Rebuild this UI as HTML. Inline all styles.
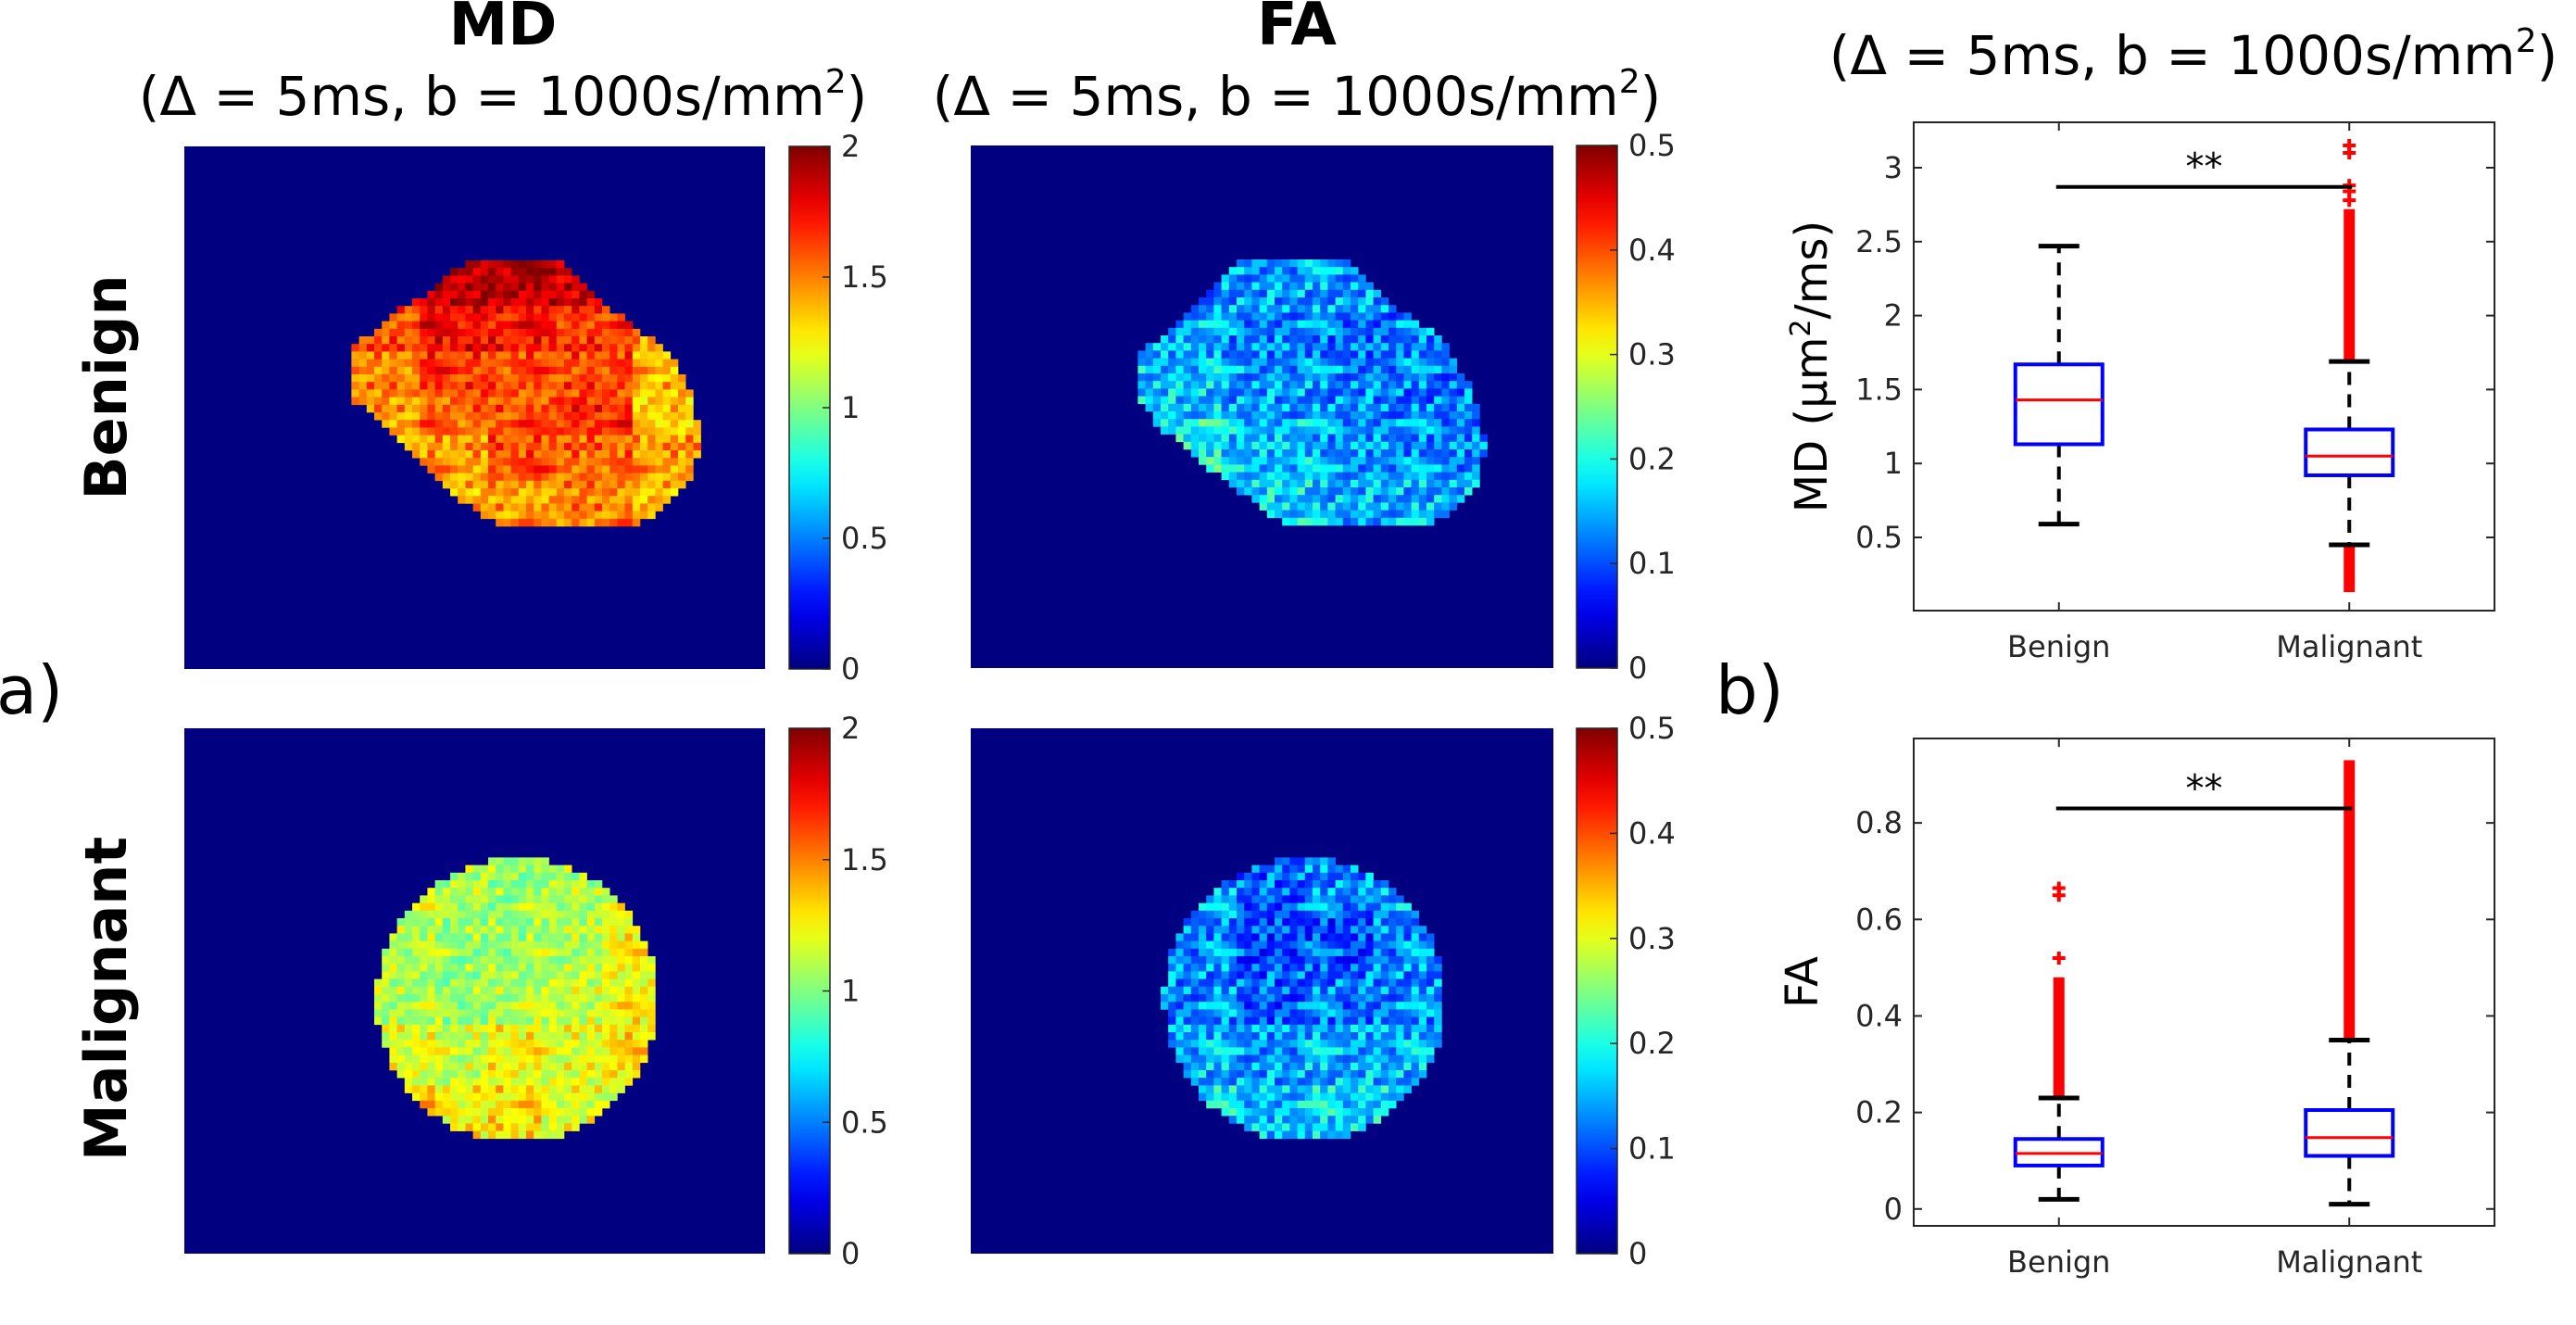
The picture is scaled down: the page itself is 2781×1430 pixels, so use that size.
<!DOCTYPE html>
<html><head><meta charset="utf-8"><style>
html,body{margin:0;padding:0;background:#fff;}
svg{display:block;font-family:"DejaVu Sans","Liberation Sans",sans-serif;}
</style></head><body>
<svg id="fig" width="2781" height="1430" viewBox="0 0 2781 1430" xmlns="http://www.w3.org/2000/svg">
<rect width="2781" height="1430" fill="#fff"/>
<g id="maps"></g>
<g id="text">
<text x="543" y="48" font-size="64" font-weight="bold" text-anchor="middle">MD</text>
<text x="543" y="124" font-size="58" text-anchor="middle">(Δ = 5ms, b = 1000s/mm<tspan font-size="36" dy="-24">2</tspan><tspan dy="24">)</tspan></text>
<text x="1400" y="48" font-size="64" font-weight="bold" text-anchor="middle">FA</text>
<text x="1400" y="124" font-size="58" text-anchor="middle">(Δ = 5ms, b = 1000s/mm<tspan font-size="36" dy="-24">2</tspan><tspan dy="24">)</tspan></text>
<text x="2368" y="80" font-size="58" text-anchor="middle">(Δ = 5ms, b = 1000s/mm<tspan font-size="36" dy="-24">2</tspan><tspan dy="24">)</tspan></text>
<text transform="translate(136,418) rotate(-90)" font-size="62" font-weight="bold" text-anchor="middle">Benign</text>
<text transform="translate(136,1078) rotate(-90)" font-size="62" font-weight="bold" text-anchor="middle">Malignant</text>
<text x="-4" y="770" font-size="72">a)</text>
<text x="1852" y="770" font-size="72">b)</text>
</g>
<g id="boxes"></g>
</svg>
<script>
// ---------- heatmap data (coarse value grids) ----------
const mdBenignGrid=[[1.85,1.9,1.9,1.85,1.7],[1.6,1.75,1.72,1.65,1.45],[1.5,1.65,1.6,1.62,1.4],[1.45,1.55,1.6,1.68,1.35],[1.4,1.45,1.6,1.55,1.45],[1.35,1.4,1.45,1.5,1.4]];
const mdMalignantGrid=[[1.15,1.1,1.05,1.1,1.2],[1.1,1.05,1.05,1.1,1.25],[1.1,1.05,1.1,1.15,1.25],[1.2,1.15,1.25,1.2,1.3],[1.35,1.25,1.3,1.2,1.2]];
const faBenignGrid=[[0.13,0.14,0.14,0.13],[0.15,0.13,0.12,0.13],[0.16,0.14,0.13,0.12],[0.19,0.16,0.14,0.13],[0.18,0.17,0.15,0.15]];
const faMalignantGrid=[[0.14,0.11,0.13,0.15],[0.13,0.1,0.1,0.13],[0.13,0.11,0.12,0.13],[0.15,0.14,0.15,0.15],[0.17,0.16,0.17,0.18]];
const mdJitter=[0.12,-0.08,0.05,-0.15,0.1,0.0,-0.05,0.18,-0.12,0.07,-0.02,0.03,-0.1];
const faJitter=[0.04,-0.03,0.02,-0.05,0.06,0.0,-0.02,0.05,-0.04,0.03,-0.01,0.01,-0.03];
const mdTicks=[0,0.5,1,1.5,2];
const faTicks=[0,0.1,0.2,0.3,0.4,0.5];

function jet(t){t=Math.max(0,Math.min(1,t));
 const f=x=>Math.max(0,Math.min(1,x));
 const r=f(1.5-Math.abs(4*t-3)),g=f(1.5-Math.abs(4*t-2)),b=f(1.5-Math.abs(4*t-1));
 return `rgb(${Math.round(r*255)},${Math.round(g*255)},${Math.round(b*255)})`;}
function inPoly(x,y,p){let c=false;for(let i=0,j=p.length-1;i<p.length;j=i++){const a=p[i],b=p[j];
 if(((a[1]>y)!=(b[1]>y))&&(x<(b[0]-a[0])*(y-a[1])/(b[1]-a[1])+a[0]))c=!c;}return c;}
function ellipse(cx,cy,rx,ry){const p=[];for(let k=0;k<40;k++){const a=k/40*2*Math.PI;p.push([cx+rx*Math.cos(a),cy+ry*Math.sin(a)]);}return p;}
const NS="http://www.w3.org/2000/svg";
function el(tag,attrs,parent){const e=document.createElementNS(NS,tag);for(const k in attrs)e.setAttribute(k,attrs[k]);parent.appendChild(e);return e;}

const maps=document.getElementById('maps');
const mdBenignShape=[[511,280],[603,280],[637,311],[683,354],[723,378],[746,425],[754,464],[752,507],[735,526],[717,550],[685,570],[540,570],[499,540],[459,507],[425,468],[379,430],[379,378],[402,358],[430,335],[471,311],[494,287]];
const faBenignShape=[[1343,280],[1452,280],[1498,325],[1556,366],[1590,421],[1604,478],[1596,521],[1573,550],[1533,568],[1389,568],[1343,535],[1286,492],[1246,454],[1228,430],[1228,382],[1274,349],[1309,306]];
const panels=[
 {name:'md-benign-map',x:199,y:158,w:627,h:564,shape:mdBenignShape,grid:mdBenignGrid,jit:mdJitter,max:2,cb:852,ticks:mdTicks},
 {name:'fa-benign-map',x:1048,y:157,w:629,h:564,shape:faBenignShape,grid:faBenignGrid,jit:faJitter,max:0.5,cb:1702,ticks:faTicks},
 {name:'md-malignant-map',x:199,y:786,w:627,h:567,shape:ellipse(558,1079,152,154),grid:mdMalignantGrid,jit:mdJitter,max:2,cb:852,ticks:mdTicks},
 {name:'fa-malignant-map',x:1048,y:786,w:629,h:567,shape:ellipse(1408,1079,152,154),grid:faMalignantGrid,jit:faJitter,max:0.5,cb:1702,ticks:faTicks}];
let gid=0;
panels.forEach(P=>{
 const g=el('g',{},maps);
 
 
 const bg=el('rect',{x:P.x,y:P.y,width:P.w,height:P.h,fill:jet(0)},g);
 
 
 let xs=P.shape.map(p=>p[0]),ys=P.shape.map(p=>p[1]);
 const x0=Math.min(...xs),x1=Math.max(...xs),y0=Math.min(...ys),y1=Math.max(...ys);
 const cs=8.2;
 const rows=P.grid.length,cols=P.grid[0].length;
 let i=0;
 for(let y=P.y;y<P.y+P.h;y+=cs,i++){let j=0;
  for(let x=P.x;x<P.x+P.w;x+=cs,j++){
   const cx=x+cs/2,cy=y+cs/2;
   if(!inPoly(cx,cy,P.shape))continue;
   const gr=Math.min(rows-1,Math.floor((cy-y0)/(y1-y0)*rows)),gc=Math.min(cols-1,Math.floor((cx-x0)/(x1-x0)*cols));
   const v=P.grid[gr][gc]+P.jit[(i*i*3+j*j*5+i*j)%P.jit.length];
   el('rect',{x:x.toFixed(1),y:y.toFixed(1),width:cs+0.3,height:cs+0.3,fill:jet(v/P.max)},g);
  }}
 const id='jetg'+(gid++);
 const defs=el('defs',{},g);
 const lg=el('linearGradient',{id:id,x1:0,y1:1,x2:0,y2:0},defs);
 for(let k=0;k<=20;k++)el('stop',{offset:k/20,'stop-color':jet(k/20)},lg);
 const cb=el('rect',{x:P.cb,y:P.y,width:44,height:P.h,fill:`url(#${id})`,stroke:'#262626','stroke-width':1.5},g);
 
 
 P.ticks.forEach(t=>{
  const ty=P.y+P.h-(t/P.max)*P.h;
  el('line',{x1:P.cb+36,x2:P.cb+44,y1:ty,y2:ty,stroke:'#262626','stroke-width':1.5},g);
  const tx=el('text',{x:P.cb+56,y:ty+11,'font-size':32,fill:'#262626'},g);
  tx.textContent=String(t);
  
  
 });
});

// ---------- boxplot data ----------
const categories=['Benign','Malignant'];
const mdQ1=[1.13,0.92],mdMedian=[1.43,1.05],mdQ3=[1.67,1.23],mdWhiskLo=[0.59,0.45],mdWhiskHi=[2.47,1.69];
const mdDenseLo=[[null,null],[0.13,0.45]],mdDenseHi=[[null,null],[1.69,2.72]];
const mdOutliers=[[],[2.78,2.84,2.88,3.1,3.15]];
const mdYTicks=[0.5,1,1.5,2,2.5,3];
const mdYLabels=['0.5','1','1.5','2','2.5','3'];
const mdSig=2.87;
const faQ1=[0.09,0.11],faMedian=[0.115,0.148],faQ3=[0.145,0.205],faWhiskLo=[0.02,0.01],faWhiskHi=[0.23,0.35];
const faDenseHi=[[0.23,0.48],[0.35,0.93]];
const faOutliers=[[0.52,0.65,0.665],[]];
const faYTicks=[0,0.2,0.4,0.6,0.8];
const faYLabels=['0','0.2','0.4','0.6','0.8'];
const faSig=0.83;

const boxes=document.getElementById('boxes');
function boxplot(o){
 const g=el('g',{},boxes);
 
 
 const X=o.x0,W=o.x1-o.x0;
 const sy=v=>o.y1-(v-o.ymin)/(o.ymax-o.ymin)*(o.y1-o.y0);
 const sx=i=>X+W*(i+0.5)/2;
 const ax=el('rect',{x:X,y:o.y0,width:W,height:o.y1-o.y0,fill:'none',stroke:'#262626','stroke-width':2},g);
 
 
 o.yt.forEach((t,k)=>{const y=sy(t);
  el('line',{x1:X,x2:X+9,y1:y,y2:y,stroke:'#262626','stroke-width':2},g);
  el('line',{x1:X+W-9,x2:X+W,y1:y,y2:y,stroke:'#262626','stroke-width':2},g);
  const tx=el('text',{x:X-12,y:y+11,'font-size':32,fill:'#262626','text-anchor':'end'},g);
  tx.textContent=o.yl[k];
  
  });
 categories.forEach((c,i)=>{const x=sx(i);
  el('line',{x1:x,x2:x,y1:o.y1,y2:o.y1-9,stroke:'#262626','stroke-width':2},g);
  el('line',{x1:x,x2:x,y1:o.y0,y2:o.y0+9,stroke:'#262626','stroke-width':2},g);
  const tx=el('text',{x:x,y:o.y1+50,'font-size':32,fill:'#262626','text-anchor':'middle'},g);
  tx.textContent=c;
  
  
  const hw=47,cw=22;
  el('line',{x1:x,x2:x,y1:sy(o.q3[i]),y2:sy(o.wh[i]),stroke:'#000','stroke-width':4,'stroke-dasharray':'14 10'},g);
  el('line',{x1:x,x2:x,y1:sy(o.q1[i]),y2:sy(o.wl[i]),stroke:'#000','stroke-width':4,'stroke-dasharray':'14 10'},g);
  if(o.dh&&o.dh[i][0]!=null){const d=el('rect',{x:x-6,y:sy(o.dh[i][1]),width:12,height:sy(o.dh[i][0])-sy(o.dh[i][1]),fill:'#f00'},g);
   }
  if(o.dl&&o.dl[i][0]!=null){const d=el('rect',{x:x-6,y:sy(o.dl[i][1]),width:12,height:sy(o.dl[i][0])-sy(o.dl[i][1]),fill:'#f00'},g);
   }
  o.out[i].forEach(v=>{const y=sy(v);
   const m=el('path',{d:`M${x-7},${y}H${x+7}M${x},${y-7}V${y+7}`,stroke:'#f00','stroke-width':4},g);
   });
  el('line',{x1:x-cw,x2:x+cw,y1:sy(o.wh[i]),y2:sy(o.wh[i]),stroke:'#000','stroke-width':5},g);
  el('line',{x1:x-cw,x2:x+cw,y1:sy(o.wl[i]),y2:sy(o.wl[i]),stroke:'#000','stroke-width':5},g);
  const b=el('rect',{x:x-hw,y:sy(o.q3[i]),width:2*hw,height:sy(o.q1[i])-sy(o.q3[i]),fill:'none',stroke:'#00f','stroke-width':4},g);
  
  const md=el('line',{x1:x-hw,x2:x+hw,y1:sy(o.med[i]),y2:sy(o.med[i]),stroke:'#f00','stroke-width':3},g);
  
 });
 const s=el('line',{x1:sx(0)-3,x2:sx(1)+3,y1:sy(o.sig),y2:sy(o.sig),stroke:'#000','stroke-width':4},g);
 
 const st=el('text',{x:(sx(0)+sx(1))/2,y:sy(o.sig)-8,'font-size':40,'text-anchor':'middle'},g);
 st.textContent='**';
 
 const yt=el('text',{transform:`translate(${o.titleX},${(o.y0+o.y1)/2}) rotate(-90)`,'font-size':48,'text-anchor':'middle'},g);
 yt.innerHTML=o.title;
 
}
boxplot({name:'md-boxplot',x0:2066,x1:2693,y0:132,y1:659,ymin:0.005,ymax:3.307,yt:mdYTicks,yl:mdYLabels,
 q1:mdQ1,med:mdMedian,q3:mdQ3,wl:mdWhiskLo,wh:mdWhiskHi,dh:mdDenseHi,dl:mdDenseLo,out:mdOutliers,sig:mdSig,
 titleX:1972,title:'MD (μm<tspan font-size="30" dy="-18">2</tspan><tspan dy="18">/ms)</tspan>'});
boxplot({name:'fa-boxplot',x0:2066,x1:2693,y0:797,y1:1323,ymin:-0.035,ymax:0.975,yt:faYTicks,yl:faYLabels,
 q1:faQ1,med:faMedian,q3:faQ3,wl:faWhiskLo,wh:faWhiskHi,dh:faDenseHi,dl:null,out:faOutliers,sig:faSig,
 titleX:1962,title:'FA'});
</script>
</body></html>
